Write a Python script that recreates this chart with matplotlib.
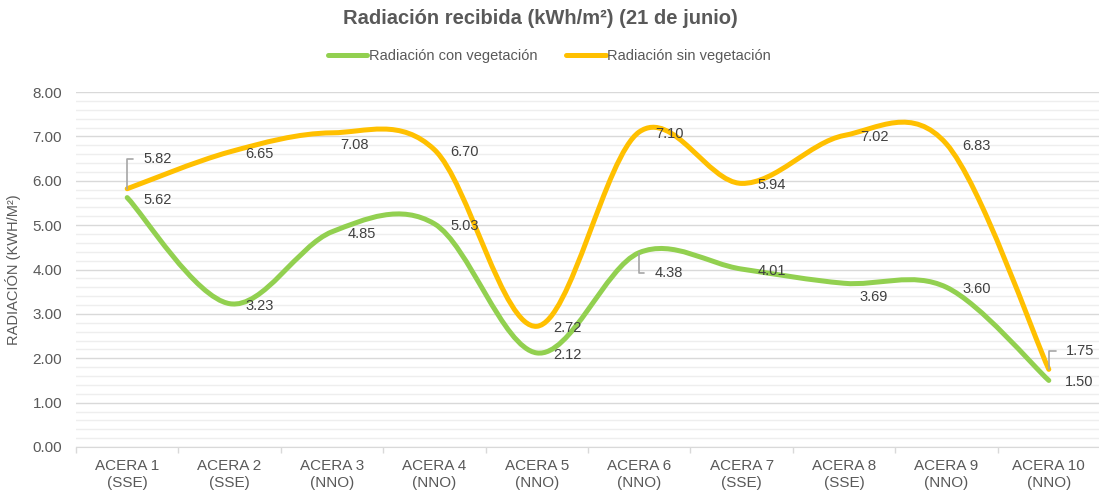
import numpy as np
import matplotlib
matplotlib.use('Agg')
import matplotlib.pyplot as plt
from matplotlib.path import Path
from matplotlib.patches import PathPatch
from matplotlib.lines import Line2D

plt.rcParams['font.family'] = ['Liberation Sans', 'DejaVu Sans']

# datos
categorias = ['ACERA 1\n(SSE)', 'ACERA 2\n(SSE)', 'ACERA 3\n(NNO)', 'ACERA 4\n(NNO)',
              'ACERA 5\n(NNO)', 'ACERA 6\n(NNO)', 'ACERA 7\n(SSE)', 'ACERA 8\n(SSE)',
              'ACERA 9\n(NNO)', 'ACERA 10\n(NNO)']
con_veg = [5.62, 3.23, 4.85, 5.03, 2.12, 4.38, 4.01, 3.69, 3.60, 1.50]
sin_veg = [5.82, 6.65, 7.08, 6.70, 2.72, 7.10, 5.94, 7.02, 6.83, 1.75]

VERDE = '#92D050'
AMARILLO = '#FFC000'
GRIS = '#595959'


def smooth_path(xs, ys):
    # curva suavizada tipo Excel (bezier con tangentes catmull-rom)
    pts = np.column_stack([xs, ys]).astype(float)
    n = len(pts)
    verts = [pts[0]]
    codes = [Path.MOVETO]
    for i in range(n - 1):
        p0 = pts[max(i - 1, 0)]
        p1 = pts[i]
        p2 = pts[i + 1]
        p3 = pts[min(i + 2, n - 1)]
        verts += [p1 + (p2 - p0) / 6, p2 - (p3 - p1) / 6, p2]
        codes += [Path.CURVE4] * 3
    return Path(verts, codes)


fig = plt.figure(figsize=(10.99, 4.93), dpi=100)
ax = fig.add_axes([76 / 1099, 1 - 447 / 493, 1024 / 1099, 355 / 493])

x = np.arange(len(categorias))
for vals, col in [(con_veg, VERDE), (sin_veg, AMARILLO)]:
    ax.add_patch(PathPatch(smooth_path(x, vals), fill=False, edgecolor=col, lw=3.6,
                           capstyle='round', joinstyle='round', zorder=3))

ax.set_xlim(-0.5, len(categorias) - 0.5)
ax.set_ylim(0, 8)
ax.set_yticks(np.arange(0, 8.01, 1))
ax.set_yticks(np.arange(0, 8.01, 0.2), minor=True)
ax.set_yticklabels(['%.2f' % v for v in np.arange(0, 8.01, 1)])
ax.grid(axis='y', which='major', color='#d9d9d9', lw=1.0)
ax.grid(axis='y', which='minor', color='#eeeeee', lw=1.0)
ax.set_axisbelow(True)

ax.set_xticks(x)
ax.set_xticklabels(categorias)
ax.set_xticks(np.arange(-0.5, len(categorias), 1), minor=True)
ax.tick_params(axis='x', which='major', length=0, pad=9, labelsize=11, labelcolor=GRIS)
ax.tick_params(axis='x', which='minor', length=4, color='#d9d9d9', width=1)
ax.tick_params(axis='y', which='both', length=0, pad=10, labelsize=11, labelcolor=GRIS)

for s in ['top', 'right', 'left']:
    ax.spines[s].set_visible(False)
ax.spines['bottom'].set_color('#d9d9d9')

ax.set_ylabel('RADIACIÓN (KWH/M²)', color=GRIS, fontsize=10.5, labelpad=8)

# etiquetas de datos (desplazamientos en pixeles)
default_off = (16, -2)
off_sin = {0: (16, 30), 2: (8, -12), 9: (17, 18)}
off_con = {5: (15, -20), 7: (15, -14)}
leaders = {('sin', 0), ('sin', 9), ('con', 5)}

for name, vals, offs in [('con', con_veg, off_con), ('sin', sin_veg, off_sin)]:
    for i, v in enumerate(vals):
        dx, dy = offs.get(i, default_off)
        kw = {}
        if (name, i) in leaders:
            kw['arrowprops'] = dict(arrowstyle='-', color='#a6a6a6', lw=1.2,
                                    connectionstyle='angle,angleA=0,angleB=90,rad=0',
                                    shrinkA=5, shrinkB=0, relpos=(0, 0.5))
        ax.annotate('%.2f' % v, xy=(i, v), xytext=(dx, dy), textcoords='offset pixels',
                    ha='left', va='center', fontsize=10.5, color='#404040', zorder=4, **kw)

fig.text(0.492, 1 - 18 / 493, 'Radiación recibida (kWh/m²) (21 de junio)',
         ha='center', va='center', fontsize=14.5, fontweight='bold', color=GRIS)

handles = [Line2D([], [], color=VERDE, lw=3.6, solid_capstyle='round'),
           Line2D([], [], color=AMARILLO, lw=3.6, solid_capstyle='round')]
leg = fig.legend(handles, ['Radiación con vegetación', 'Radiación sin vegetación'],
                 loc='center', bbox_to_anchor=(0.5, 1 - 56 / 493), ncol=2, frameon=False,
                 fontsize=10.5, handlelength=2.7, handletextpad=0.1, columnspacing=2.0)
for t in leg.get_texts():
    t.set_color(GRIS)

fig.savefig('out.png', dpi=100)
